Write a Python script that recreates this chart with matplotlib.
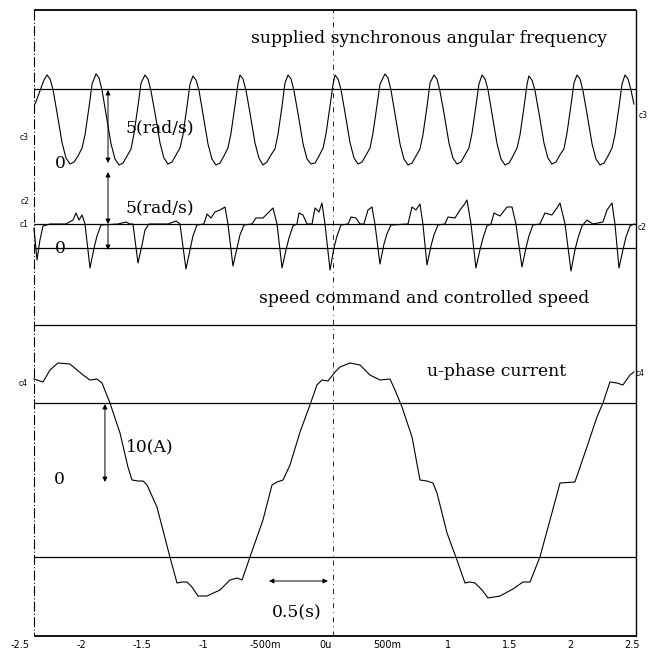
import matplotlib.pyplot as plt

# recorder time axis (s); vertical values are screen rows of the scanned plot (0 = top)
tick_pos = [-2.5, -2.0, -1.5, -1.0, -0.5, 0.0, 0.5, 1.0, 1.5, 2.0, 2.5]
tick_lab = ["-2.5", "-2", "-1.5", "-1", "-500m", "0u", "500m", "1", "1.5", "2", "2.5"]

# supplied synchronous angular frequency (c3)
omega_t = [-2.377, -2.304,
           -2.279, -2.254, -2.230, -2.197, -2.156, -2.124, -2.091, -2.058, -2.026, -1.993, -1.969, -1.936, -1.911,
           -1.879, -1.854, -1.830, -1.797, -1.756, -1.724, -1.691, -1.658, -1.626, -1.593, -1.569, -1.536, -1.511,
           -1.479, -1.454, -1.430, -1.397, -1.356, -1.324, -1.291, -1.258, -1.226, -1.193, -1.169, -1.136, -1.111,
           -1.087, -1.062, -1.038, -1.005, -0.964, -0.932, -0.899, -0.866, -0.834, -0.801, -0.777, -0.744, -0.719,
           -0.703, -0.678, -0.654, -0.621, -0.580, -0.548, -0.515, -0.482, -0.450, -0.417, -0.393, -0.360, -0.335,
           -0.310, -0.285, -0.261, -0.228, -0.187, -0.155, -0.122, -0.089, -0.057, -0.024, 0.000, 0.033, 0.058,
           0.074, 0.099, 0.123, 0.156, 0.197, 0.229, 0.262, 0.295, 0.327, 0.360, 0.384, 0.417, 0.442,
           0.482, 0.507, 0.531, 0.564, 0.605, 0.637, 0.670, 0.703, 0.735, 0.768, 0.792, 0.825, 0.850,
           0.882, 0.907, 0.931, 0.964, 1.005, 1.037, 1.070, 1.103, 1.135, 1.168, 1.192, 1.225, 1.250,
           1.275, 1.300, 1.324, 1.357, 1.398, 1.430, 1.463, 1.496, 1.528, 1.561, 1.585, 1.618, 1.643,
           1.658, 1.683, 1.707, 1.740, 1.781, 1.813, 1.846, 1.879, 1.911, 1.944, 1.968, 2.001, 2.026,
           2.051, 2.076, 2.100, 2.133, 2.174, 2.206, 2.239, 2.272, 2.304, 2.337, 2.361, 2.394, 2.419,
           2.443, 2.468, 2.492, 2.516]
omega_y = [104, 80,
           75, 79, 90, 113, 143, 158, 164, 162, 156, 148, 135, 107, 84,
           74, 78, 90, 114, 144, 159, 165, 163, 156, 149, 134, 106, 83,
           75, 79, 91, 113, 143, 158, 164, 162, 155, 148, 135, 107, 84,
           76, 80, 90, 114, 144, 159, 165, 163, 156, 148, 134, 106, 84,
           75, 79, 90, 113, 143, 158, 165, 162, 155, 149, 135, 107, 83,
           75, 79, 91, 114, 144, 159, 164, 163, 156, 148, 134, 106, 84,
           75, 79, 90, 113, 143, 158, 164, 162, 155, 148, 133, 105, 84,
           74, 78, 90, 114, 144, 159, 165, 163, 156, 149, 135, 107, 83,
           75, 79, 91, 113, 143, 158, 164, 162, 155, 148, 134, 106, 84,
           75, 79, 90, 114, 144, 159, 165, 163, 156, 148, 135, 107, 84,
           76, 80, 90, 113, 143, 158, 164, 162, 155, 149, 134, 106, 83,
           75, 79, 91, 114, 144, 159, 165, 163, 156, 148, 135, 107, 84,
           75, 79, 90, 104]

# controlled speed (c2)
speed_t = [-2.386, -2.361, -2.337, -2.312, -2.255, -2.124, -2.067, -2.042, -2.018, -1.993, -1.969,
           -1.928, -1.895, -1.871, -1.838, -1.699, -1.634, -1.601, -1.577,
           -1.536, -1.503, -1.479, -1.446, -1.291, -1.225, -1.193,
           -1.144, -1.111, -1.087, -1.054, -0.997, -0.972, -0.940, -0.907, -0.866, -0.825, -0.801,
           -0.760, -0.727, -0.703, -0.670, -0.605, -0.572, -0.515, -0.474, -0.433, -0.400,
           -0.359, -0.327, -0.302, -0.270, -0.237, -0.221, -0.188, -0.155, -0.114, -0.090, -0.057, -0.033, -0.008,
           0.033, 0.065, 0.090, 0.123, 0.180, 0.204, 0.245, 0.278, 0.310, 0.343, 0.376, 0.400,
           0.441, 0.474, 0.498, 0.531, 0.670, 0.703, 0.735, 0.768, 0.792,
           0.825, 0.858, 0.882, 0.915, 0.972, 0.997, 1.054, 1.095, 1.127, 1.152, 1.185,
           1.225, 1.258, 1.283, 1.315, 1.348, 1.373, 1.422, 1.479, 1.520, 1.552,
           1.601, 1.634, 1.658, 1.691, 1.748, 1.789, 1.846, 1.887, 1.912, 1.953,
           2.002, 2.034, 2.059, 2.092, 2.132, 2.181, 2.263, 2.296, 2.337, 2.361,
           2.394, 2.426, 2.451, 2.484, 2.516]
speed_y = [228, 260, 240, 226, 224, 224, 220, 213, 220, 215, 224,
           268, 248, 236, 225, 224, 222, 224, 224,
           263, 245, 230, 224, 224, 221, 224,
           269, 250, 236, 225, 224, 214, 218, 212, 210, 207, 224,
           266, 248, 235, 225, 224, 218, 218, 213, 208, 224,
           268, 250, 238, 226, 224, 213, 215, 224, 224, 208, 212, 203, 224,
           270, 248, 236, 225, 224, 217, 218, 224, 224, 210, 207, 224,
           264, 244, 234, 225, 224, 207, 210, 204, 224,
           265, 246, 235, 225, 224, 217, 218, 210, 205, 200, 224,
           268, 250, 238, 226, 224, 213, 216, 207, 207, 224,
           267, 248, 236, 225, 224, 213, 215, 208, 203, 224,
           271, 250, 238, 226, 220, 224, 222, 210, 203, 224,
           268, 250, 237, 226, 224]

# u-phase current (c4)
cur_t = [-2.386, -2.361, -2.312, -2.255, -2.190, -2.092, -1.985, -1.928, -1.871, -1.830,
         -1.765, -1.683, -1.618, -1.585, -1.536, -1.495, -1.462, -1.381, -1.275, -1.217,
         -1.176, -1.136, -1.095, -1.046, -0.972, -0.866, -0.784, -0.727, -0.686, -0.621,
         -0.515, -0.441, -0.400, -0.351, -0.294, -0.212, -0.131, -0.074, -0.033, 0.016,
         0.074, 0.114, 0.196, 0.278, 0.359, 0.441, 0.523, 0.564, 0.621, 0.703,
         0.768, 0.825, 0.874, 0.907, 0.989, 1.070, 1.136, 1.176, 1.217, 1.275,
         1.324, 1.422, 1.528, 1.609, 1.667, 1.748, 1.846, 1.912, 2.034, 2.132,
         2.214, 2.263, 2.320, 2.377, 2.426, 2.484, 2.516]
cur_y = [379, 380, 382, 370, 363, 364, 375, 380, 379, 383,
         403, 433, 467, 480, 481, 481, 485, 507, 557, 583,
         582, 582, 587, 596, 596, 590, 580, 578, 580, 557,
         520, 485, 482, 480, 465, 432, 405, 385, 380, 381,
         372, 367, 363, 365, 375, 380, 379, 390, 407, 437,
         480, 481, 483, 493, 533, 560, 583, 582, 583, 590,
         598, 596, 589, 582, 582, 557, 513, 483, 482, 447,
         417, 403, 382, 383, 385, 375, 372]

# horizontal reference lines of the recorder screen
ref_levels = [89, 224, 248, 325, 403, 557]

serif = "DejaVu Serif"
fs = 12.3

fig = plt.figure(figsize=(6.56, 6.55), dpi=100)
ax = fig.add_axes([20 / 656, 19 / 655, 616 / 656, 626 / 655])
ax.set_xlim(-2.5, 2.533)
ax.set_ylim(636, 10)

for s in ["left", "top", "bottom"]:
    ax.spines[s].set_visible(False)
ax.spines["right"].set_linewidth(1.0)

x0 = -2.386   # left edge of the screen frame
ax.hlines([10, 636], x0, 2.533, color="k", lw=1.3, clip_on=False)
ax.vlines(x0, 10, 636, color="k", lw=0.8, linestyles=(0, (9, 2, 1, 2)))
ax.hlines(ref_levels, x0, 2.533, color="k", lw=0.9)
ax.axvline(0.057, color="k", lw=0.6, ls=(0, (6, 5, 1, 5)))

ax.plot(omega_t, omega_y, color="k", lw=0.8)
ax.plot(speed_t, speed_y, color="k", lw=0.8)
ax.plot(cur_t, cur_y, color="k", lw=0.8)

# scale arrows
arr = dict(color="k", lw=0.7, mutation_scale=7, shrinkA=0, shrinkB=0)
ax.annotate("", xy=(-1.781, 90), xytext=(-1.781, 163), arrowprops=dict(arrowstyle="<|-|>", **arr))
ax.annotate("", xy=(-1.781, 172), xytext=(-1.781, 224), arrowprops=dict(arrowstyle="<|-|>", **arr))
ax.annotate("", xy=(-1.781, 250), xytext=(-1.781, 224), arrowprops=dict(arrowstyle="-|>", **arr))
ax.annotate("", xy=(-1.806, 404), xytext=(-1.806, 482), arrowprops=dict(arrowstyle="<|-|>", **arr))
ax.annotate("", xy=(-0.466, 581), xytext=(0.016, 581), arrowprops=dict(arrowstyle="<|-|>", **arr))

# labels
ax.text(0.841, 38, "supplied synchronous angular frequency", ha="center", va="center", family=serif, fontsize=fs)
ax.text(-1.356, 128, "5(rad/s)", ha="center", va="center", family=serif, fontsize=fs)
ax.text(-2.173, 163, "0", ha="center", va="center", family=serif, fontsize=fs)
ax.text(-1.356, 208, "5(rad/s)", ha="center", va="center", family=serif, fontsize=fs)
ax.text(-2.173, 248, "0", ha="center", va="center", family=serif, fontsize=fs)
ax.text(0.801, 298, "speed command and controlled speed", ha="center", va="center", family=serif, fontsize=fs)
ax.text(1.397, 371, "u-phase current", ha="center", va="center", family=serif, fontsize=fs)
ax.text(-1.438, 447, "10(A)", ha="center", va="center", family=serif, fontsize=fs)
ax.text(-2.181, 479, "0", ha="center", va="center", family=serif, fontsize=fs)
ax.text(-0.237, 613, "0.5(s)", ha="center", va="center", family=serif, fontsize=fs)

for tx, ty, s in [(-2.467, 137, "c3"), (-2.459, 201, "c2"), (-2.467, 224, "c1"), (-2.475, 383, "c4"),
                  (2.590, 115, "c3"), (2.582, 227, "c2"), (2.565, 373, "c4")]:
    ax.text(tx, ty, s, ha="center", va="center", fontsize=5.5)

ax.set_xticks(tick_pos, tick_lab)
ax.tick_params(axis="x", length=0, pad=3, labelsize=7)
ax.set_yticks([])

fig.savefig("out.png", dpi=100)
